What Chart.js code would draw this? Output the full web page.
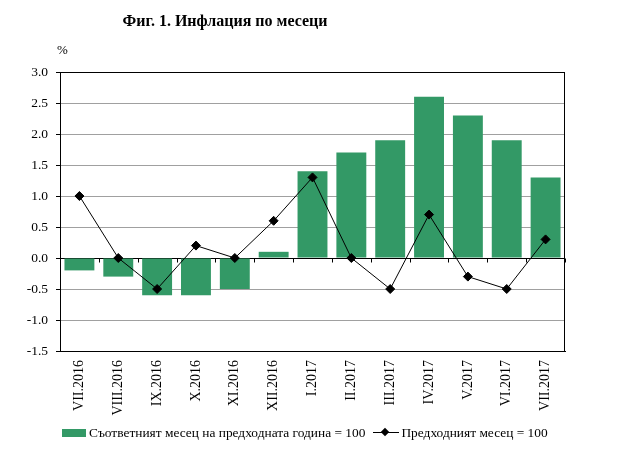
<!DOCTYPE html>
<html lang="bg">
<head>
<meta charset="UTF-8">
<script src="https://cdn.jsdelivr.net/npm/chart.js"></script>
<style>
  body { margin: 0; background: #fff; }
  .wrap { position: relative; width: 618px; height: 454px; font-family: "Liberation Serif", "Times New Roman", serif; }
  canvas { position: absolute; left: 0; top: 0; }
  .title { position: absolute; top: 12px; left: 0; width: 450px; text-align: center; font-weight: bold; font-size: 16px; }
  .unit { position: absolute; top: 42px; left: 57px; font-size: 13px; }
  .legend { position: absolute; top: 424px; left: 62px; font-size: 13.4px; white-space: nowrap; }
  .legend span { vertical-align: middle; }
  .sw-bar { display: inline-block; width: 24px; height: 8px; background: #339966; margin-right: 3px; }
  .sw-line { display: inline-block; position: relative; width: 26px; height: 1px; background: #000; margin: 0 2px 0 8px; }
  .sw-line i { position: absolute; left: 9px; top: -3.5px; width: 6px; height: 6px; background: #000; transform: rotate(45deg); }
</style>
<title>Инфлация по месеци</title>
</head>
<body>
<div class="wrap">
  <canvas id="inflChart" width="618" height="454"></canvas>
  <div class="title">Фиг. 1. Инфлация по месеци</div>
  <div class="unit">%</div>
  <div class="legend" id="legend"></div>
</div>
<script>
  const meseci = ['VII.2016', 'VIII.2016', 'IX.2016', 'X.2016', 'XI.2016', 'XII.2016',
    'I.2017', 'II.2017', 'III.2017', 'IV.2017', 'V.2017', 'VI.2017', 'VII.2017'];
  const godishna = [-0.2, -0.3, -0.6, -0.6, -0.5, 0.1, 1.4, 1.7, 1.9, 2.6, 2.3, 1.9, 1.3];
  const mesechna = [1.0, 0.0, -0.5, 0.2, 0.0, 0.6, 1.3, 0.0, -0.5, 0.7, -0.3, -0.5, 0.3];
  const imena = ['Съответният месец на предходната година = 100', 'Предходният месец = 100'];

  const shrift = "'Liberation Serif', 'Times New Roman', serif";

  // ramka + cherti na nulevata liniq
  const ramka = {
    id: 'ramka',
    afterDatasetsDraw(chart) {
      const { ctx, chartArea: a, scales } = chart;
      ctx.save();
      ctx.strokeStyle = '#000';
      ctx.lineWidth = 1;
      ctx.strokeRect(a.left + 0.5, a.top + 0.5, a.right - a.left - 1, a.bottom - a.top);
      const y0 = Math.round(scales.y.getPixelForValue(0)) + 0.5;
      const step = scales.x.getPixelForValue(1) - scales.x.getPixelForValue(0);
      ctx.beginPath();
      for (let i = 0; i <= meseci.length; i++) {
        const x = Math.round(scales.x.getPixelForValue(i) - step / 2) + 0.5;
        ctx.moveTo(x, y0);
        ctx.lineTo(x, y0 + 4);
      }
      ctx.stroke();
      ctx.restore();
    }
  };

  new Chart(document.getElementById('inflChart'), {
    data: {
      labels: meseci,
      datasets: [
        {
          type: 'line',
          label: imena[1],
          data: mesechna,
          borderColor: '#000',
          borderWidth: 1,
          backgroundColor: '#000',
          pointStyle: 'rectRot',
          pointRadius: 4.5,
          pointBackgroundColor: '#000',
          tension: 0,
          order: 0
        },
        {
          type: 'bar',
          label: imena[0],
          data: godishna,
          backgroundColor: '#339966',
          barPercentage: 0.77,
          categoryPercentage: 1,
          order: 1
        }
      ]
    },
    options: {
      responsive: false,
      animation: false,
      layout: { padding: { top: 72, right: 53, left: 0, bottom: 0 } },
      plugins: { legend: { display: false }, tooltip: { enabled: false } },
      scales: {
        x: {
          afterFit: s => { s.height = 103; },
          grid: { display: false, drawTicks: false },
          border: { color: '#000' },
          ticks: {
            color: '#000', maxRotation: 90, minRotation: 90, autoSkip: false, padding: 9,
            font: { family: shrift, size: 14 }
          }
        },
        y: {
          min: -1.5, max: 3.0,
          afterFit: s => { s.width = 60; },
          border: { color: '#000' },
          grid: {
            color: c => (c.tick && (c.tick.value === 0 || c.tick.value === 3)) ? '#000' : '#a0a0a0',
            tickLength: 4,
            tickColor: '#000'
          },
          ticks: {
            stepSize: 0.5, color: '#000', padding: 8,
            font: { family: shrift, size: 13.5 },
            callback: v => v.toFixed(1)
          }
        }
      }
    },
    plugins: [ramka]
  });

  // legenda
  const leg = document.getElementById('legend');
  leg.innerHTML = '<span class="sw-bar"></span><span>' + imena[0] + '</span>' +
    '<span class="sw-line"><i></i></span><span>' + imena[1] + '</span>';
</script>
</body>
</html>
